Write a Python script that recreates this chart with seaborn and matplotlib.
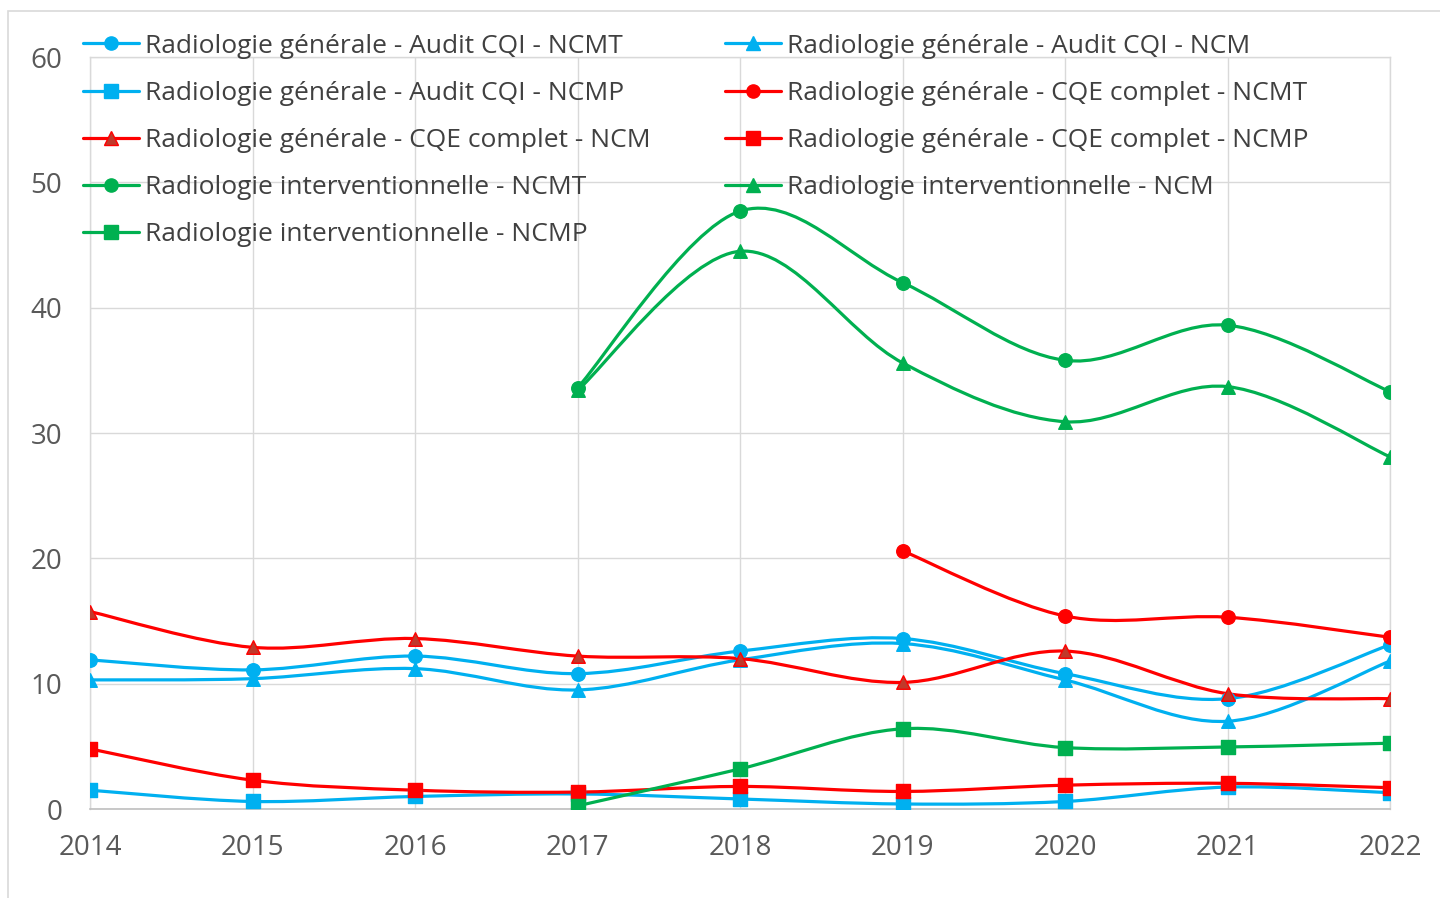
import numpy as np
import matplotlib
matplotlib.use("Agg")
import matplotlib.pyplot as plt
from matplotlib.path import Path
from matplotlib.patches import PathPatch, Rectangle
from matplotlib.lines import Line2D
import seaborn as sns

years = [2014, 2015, 2016, 2017, 2018, 2019, 2020, 2021, 2022]

# Radiologie générale - Audit CQI
cqi_ncmt = [11.9, 11.1, 12.2, 10.8, 12.6, 13.6, 10.8, 8.8, 13.1]
cqi_ncm = [10.3, 10.4, 11.2, 9.5, 11.9, 13.2, 10.3, 7.0, 11.8]
cqi_ncmp = [1.5, 0.6, 1.0, 1.2, 0.8, 0.4, 0.6, 1.75, 1.3]

# Radiologie générale - CQE complet (NCMT only from 2019)
cqe_years = [2019, 2020, 2021, 2022]
cqe_ncmt = [20.6, 15.4, 15.3, 13.7]
cqe_ncm = [15.75, 12.9, 13.6, 12.2, 12.0, 10.1, 12.6, 9.2, 8.8]
cqe_ncmp = [4.8, 2.3, 1.5, 1.35, 1.8, 1.4, 1.9, 2.05, 1.7]

# Radiologie interventionnelle (from 2017)
ri_years = [2017, 2018, 2019, 2020, 2021, 2022]
ri_ncmt = [33.6, 47.7, 42.0, 35.8, 38.6, 33.3]
ri_ncm = [33.4, 44.5, 35.6, 30.9, 33.7, 28.1]
ri_ncmp = [0.25, 3.2, 6.4, 4.9, 4.95, 5.25]

BLUE = "#00B0F0"
RED = "#FF0000"
GREEN = "#00B050"

series = [
    ("Radiologie générale - Audit CQI - NCMT", years, cqi_ncmt, BLUE, "o", BLUE),
    ("Radiologie générale - Audit CQI - NCM", years, cqi_ncm, BLUE, "^", BLUE),
    ("Radiologie générale - Audit CQI - NCMP", years, cqi_ncmp, BLUE, "s", BLUE),
    ("Radiologie générale - CQE complet - NCMT", cqe_years, cqe_ncmt, RED, "o", RED),
    ("Radiologie générale - CQE complet - NCM", years, cqe_ncm, RED, "^", "#C0392B"),
    ("Radiologie générale - CQE complet - NCMP", years, cqe_ncmp, RED, "s", RED),
    ("Radiologie interventionnelle - NCMT", ri_years, ri_ncmt, GREEN, "o", GREEN),
    ("Radiologie interventionnelle - NCM", ri_years, ri_ncm, GREEN, "^", GREEN),
    ("Radiologie interventionnelle - NCMP", ri_years, ri_ncmp, GREEN, "s", GREEN),
]


def smooth_path(x, y):
    # Excel-style smoothed line: cubic Bezier segments through each point
    pts = np.column_stack([x, y]).astype(float)
    n = len(pts)
    verts = [pts[0]]
    codes = [Path.MOVETO]
    for i in range(n - 1):
        p0 = pts[i - 1] if i > 0 else pts[i]
        p1 = pts[i]
        p2 = pts[i + 1]
        p3 = pts[i + 2] if i + 2 < n else pts[i + 1]
        c1 = p1 + (p2 - p0) / 6.0
        c2 = p2 - (p3 - p1) / 6.0
        verts += [c1, c2, p2]
        codes += [Path.CURVE4] * 3
    return Path(verts, codes)


sns.set_theme(style="white")
plt.rcParams["font.family"] = ["Open Sans", "DejaVu Sans"]

fig = plt.figure(figsize=(14.4, 8.98), dpi=100)
ax = fig.add_axes([90 / 1440, 1 - 809 / 898, 1300 / 1440, 752 / 898])

# outer chart border
fig.patches.append(Rectangle((8 / 1440, -0.01), 1.1, 1 - 11 / 898 + 0.01,
                             transform=fig.transFigure, fill=False,
                             edgecolor="#D9D9D9", linewidth=1.2, zorder=0))

handles = []
for label, xs, ys, color, marker, mfc in series:
    ax.add_patch(PathPatch(smooth_path(xs, ys), fill=False, edgecolor=color,
                           linewidth=2.3, zorder=3, capstyle="round"))
    sns.scatterplot(x=xs, y=ys, marker=marker, s=95, color=mfc,
                    edgecolor=color if marker == "^" and mfc != color else mfc,
                    linewidth=1.0, zorder=4, ax=ax, legend=False)
    handles.append(Line2D([0], [0], color=color, linewidth=2.3, marker=marker,
                          markersize=9.5, markerfacecolor=mfc, markeredgecolor=color))

ax.set_xlim(2014, 2022)
ax.set_ylim(0, 60)
ax.set_xticks(years)
ax.set_yticks(range(0, 61, 10))
ax.grid(True, color="#D9D9D9", linewidth=1.0)
ax.set_axisbelow(True)
for side in ["top", "right", "left"]:
    ax.spines[side].set_color("#D9D9D9")
    ax.spines[side].set_linewidth(1.0)
ax.spines["bottom"].set_color("#BFBFBF")
ax.spines["bottom"].set_linewidth(1.2)
ax.tick_params(axis="both", length=0, labelsize=20, labelcolor="#595959")
ax.tick_params(axis="x", pad=18)
ax.tick_params(axis="y", pad=20)

order = [0, 2, 4, 6, 8, 1, 3, 5, 7]
leg = ax.legend([handles[i] for i in order], [series[i][0] for i in order],
                ncol=2, loc="upper left", bbox_to_anchor=(-0.0137, 1.045),
                frameon=False, fontsize=19, handlelength=2.15,
                handletextpad=0.22, labelspacing=0.84, columnspacing=2.79,
                borderaxespad=0)
for t in leg.get_texts():
    t.set_color("#404040")

fig.savefig("out.png", dpi=100)
